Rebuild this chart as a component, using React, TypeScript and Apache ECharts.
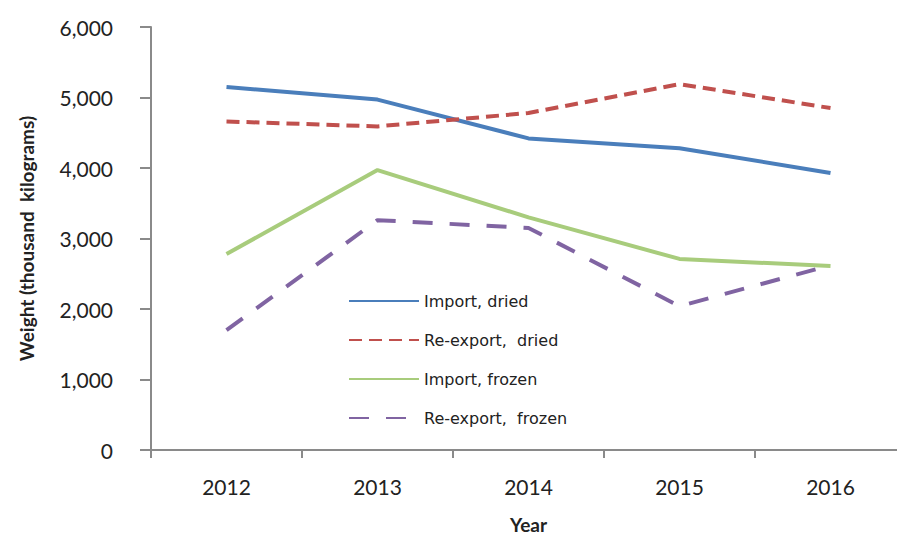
import React, { useEffect, useRef } from "react";
import * as echarts from "echarts";

const years = ["2012", "2013", "2014", "2015", "2016"];
const importDried = [5150, 4970, 4420, 4280, 3930];
const reexportDried = [4660, 4590, 4780, 5190, 4850];
const importFrozen = [2780, 3970, 3300, 2710, 2610];
const reexportFrozen = [1700, 3260, 3150, 2040, 2620];

const axisFont = "Lato, 'Open Sans', sans-serif";

export default function App() {
  const ref = useRef<HTMLDivElement>(null);
  useEffect(() => {
    if (!ref.current) return;
    const chart = echarts.init(ref.current, null, { renderer: "svg" });
    chart.setOption({
      animation: false,
      backgroundColor: "#ffffff",
      grid: { left: 151, right: -9, top: 27, bottom: 87, containLabel: false, outerBoundsMode: "none" },
      legend: {
        orient: "vertical",
        left: 343,
        top: 288,
        itemWidth: 70,
        itemHeight: 14,
        itemGap: 23,
        itemStyle: { opacity: 0, borderWidth: 0 },
        textStyle: { fontFamily: "'DejaVu Sans', sans-serif", fontSize: 16, color: "#222" },
        data: ["Import, dried", "Re-export,  dried", "Import, frozen", "Re-export,  frozen"],
      },
      xAxis: {
        type: "category",
        data: years,
        boundaryGap: true,
        name: "Year",
        nameLocation: "middle",
        nameGap: 65,
        nameTextStyle: { fontFamily: axisFont, fontWeight: "bold", fontSize: 19, color: "#222" },
        axisLine: { lineStyle: { color: "#8a8a8a", width: 2 } },
        axisTick: { show: true, length: 8, lineStyle: { color: "#8a8a8a", width: 2 } },
        axisLabel: { fontFamily: axisFont, fontSize: 21, color: "#222", margin: 26 },
        splitLine: { show: false },
      },
      yAxis: {
        type: "value",
        min: 0,
        max: 6000,
        interval: 1000,
        name: "Weight (thousand  kilograms)",
        nameLocation: "middle",
        nameGap: 115,
        nameTextStyle: { fontFamily: axisFont, fontWeight: "bold", fontSize: 19, color: "#222" },
        axisLine: { show: true, lineStyle: { color: "#8a8a8a", width: 2 } },
        axisTick: { show: true, length: 11, lineStyle: { color: "#8a8a8a", width: 2 } },
        axisLabel: {
          fontFamily: axisFont,
          fontSize: 21,
          color: "#222",
          margin: 38,
          formatter: (v: number) => v.toLocaleString("en-US"),
        },
        splitLine: { show: false },
      },
      series: [
        {
          name: "Import, dried",
          type: "line",
          data: importDried,
          symbol: "none",
          lineStyle: { color: "#4a7ebb", width: 4 },
          itemStyle: { color: "#4a7ebb" },
        },
        {
          name: "Re-export,  dried",
          type: "line",
          data: reexportDried,
          symbol: "none",
          lineStyle: { color: "#c0504d", width: 4, type: [13, 7] },
          itemStyle: { color: "#c0504d" },
        },
        {
          name: "Import, frozen",
          type: "line",
          data: importFrozen,
          symbol: "none",
          lineStyle: { color: "#a8cc7c", width: 4 },
          itemStyle: { color: "#a8cc7c" },
        },
        {
          name: "Re-export,  frozen",
          type: "line",
          data: reexportFrozen,
          symbol: "none",
          lineStyle: { color: "#8064a2", width: 4, type: [20, 17] },
          itemStyle: { color: "#8064a2" },
        },
      ],
    });
    return () => chart.dispose();
  }, []);
  return <div ref={ref} style={{ width: 897, height: 537, position: "absolute", left: 0, top: 0 }} />;
}
